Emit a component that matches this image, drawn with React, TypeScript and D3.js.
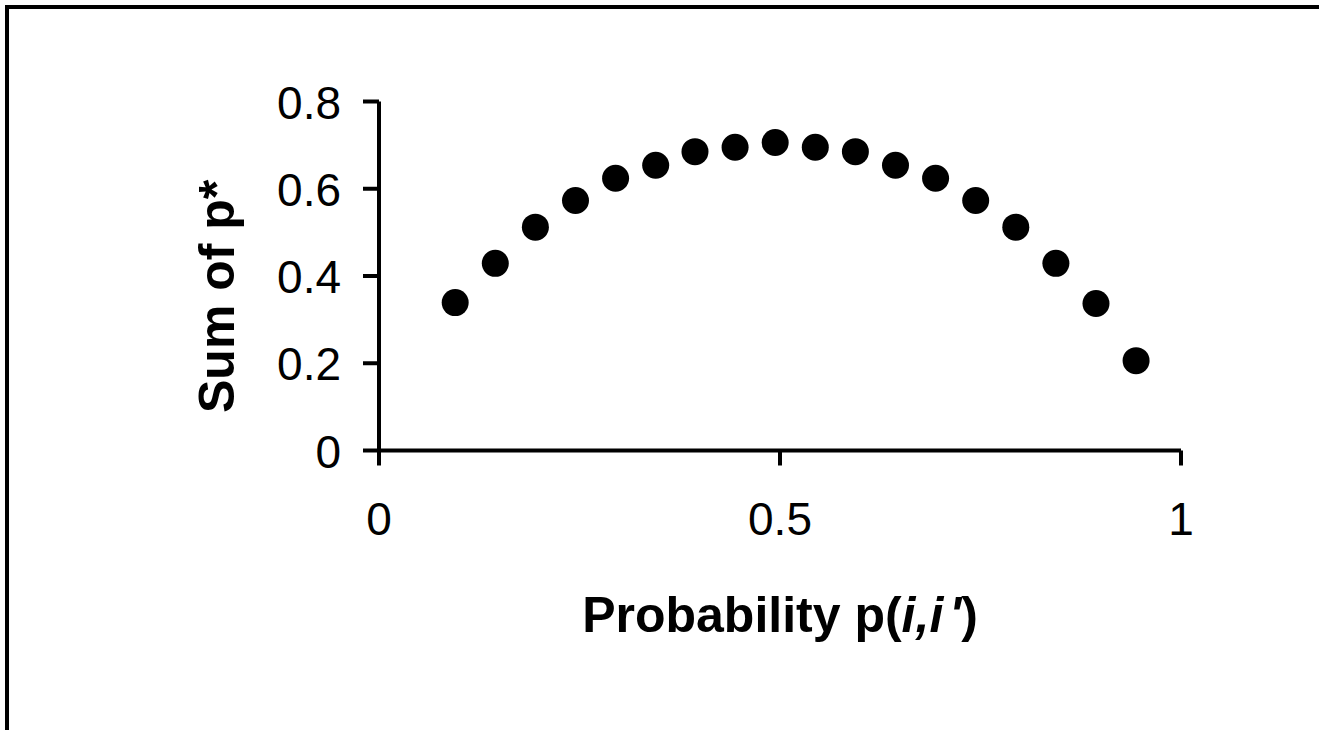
import React from 'react';
import * as d3 from 'd3';

// values
const probability = [0.095, 0.145, 0.195, 0.245, 0.295, 0.345, 0.394, 0.444, 0.494,
  0.544, 0.594, 0.644, 0.694, 0.744, 0.794, 0.844, 0.894, 0.944];
const sumOfP = [0.339, 0.429, 0.512, 0.573, 0.624, 0.654, 0.685, 0.695, 0.706,
  0.695, 0.685, 0.654, 0.624, 0.573, 0.512, 0.429, 0.337, 0.206];
const xTicks = [0, 0.5, 1];
const yTicks = [0, 0.2, 0.4, 0.6, 0.8];

const W = 1319;
const H = 730;
const FONT = '"Liberation Sans", Arial, sans-serif';

export default function App() {
  const x = d3.scaleLinear().domain([0, 1]).range([379, 1181]);
  const y = d3.scaleLinear().domain([0, 0.8]).range([450.5, 101.5]);
  const fmt = d3.format('');
  const axisW = 4;
  const tick = 15;

  return (
    <svg width={W} height={H} style={{position: 'absolute', left: 0, top: 0, background: '#fff'}}>
      {/* outer frame, runs off the right and bottom edges */}
      <rect x={7} y={7} width={W + 20} height={H + 20} fill="none" stroke="#000" strokeWidth={4} />

      {/* y axis */}
      <line x1={x(0)} x2={x(0)} y1={y(0.8)} y2={y(0)} stroke="#000" strokeWidth={axisW} />
      {yTicks.map((t, i) => (
        <g key={'y' + i}>
          <line x1={x(0) - tick - 1} x2={x(0)} y1={y(t)} y2={y(t)} stroke="#000" strokeWidth={axisW} />
          <text x={341} y={y(t) + 17} textAnchor="end" fontFamily={FONT} fontSize={46}>{fmt(t)}</text>
        </g>
      ))}

      {/* x axis */}
      <line x1={x(0)} x2={x(1)} y1={y(0)} y2={y(0)} stroke="#000" strokeWidth={axisW} />
      {xTicks.map((t, i) => (
        <g key={'x' + i}>
          <line x1={x(t)} x2={x(t)} y1={y(0)} y2={y(0) + tick} stroke="#000" strokeWidth={axisW} />
          <text x={x(t)} y={535} textAnchor="middle" fontFamily={FONT} fontSize={46}>{fmt(t)}</text>
        </g>
      ))}

      {/* points */}
      {probability.map((p, i) => (
        <circle key={i} cx={x(p)} cy={y(sumOfP[i])} r={13.5} fill="#000" />
      ))}

      {/* axis titles */}
      <text x={780} y={632} textAnchor="middle" fontFamily={FONT} fontSize={50} fontWeight="bold">
        Probability p(<tspan fontStyle="italic">i,i</tspan><tspan fontStyle="italic" dx={6}>'</tspan>)
      </text>
      <text transform="translate(234,413) rotate(-90)" fontFamily={FONT} fontSize={50} fontWeight="bold">
        Sum of p*
      </text>
    </svg>
  );
}
